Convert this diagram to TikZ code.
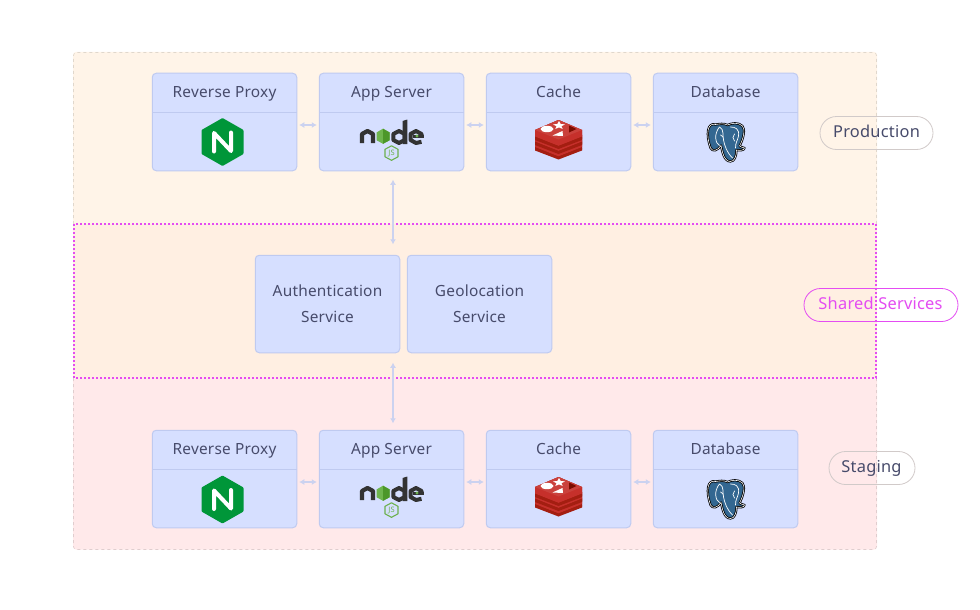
\documentclass[tikz,border=0pt]{standalone}
\usepackage{fontspec}
\setmainfont{Noto Sans}[LetterSpace=1.5]
\usetikzlibrary{arrows.meta}
\definecolor{prodfill}{HTML}{FFF4E8}
\definecolor{sharedfill}{HTML}{FFEFE2}
\definecolor{stagefill}{HTML}{FFE9EA}
\definecolor{boxfill}{HTML}{D6DFFF}
\definecolor{boxline}{HTML}{BFCAF0}
\definecolor{linkline}{HTML}{CBD2F0}
\definecolor{txt}{HTML}{474B6B}
\definecolor{mag}{HTML}{E44CF2}
\definecolor{ngx}{HTML}{009639}
\definecolor{njs}{HTML}{333333}
\definecolor{njg}{HTML}{6CB04E}
\definecolor{njb}{HTML}{55A82E}
\definecolor{pg}{HTML}{336791}
\definecolor{rtop}{HTML}{C6302B}
\definecolor{rdark}{HTML}{A41E11}
\definecolor{rdeep}{HTML}{7A0C00}
\newcommand{\pgshape}{(-10,-17.5) .. controls (-18,-20) and (-20,-8) .. (-15,6)
      .. controls (-13,10) and (-8,9) .. (-4.5,3.5)
      .. controls (-3.5,8) and (-2,19.5) .. (5,19.5)
      .. controls (9,19.5) and (11,14) .. (11,8)
      .. controls (15,9) and (19,8) .. (19,6)
      .. controls (16,5) and (15,5) .. (14,4)
      .. controls (18,-3) and (20,-13) .. (17,-16)
      .. controls (13,-20) and (6,-19) .. (2,-17)
      .. controls (-2,-19) and (-6,-18) .. (-10,-17.5) -- cycle}
\tikzset{
  x=1pt,y=-1pt,
  zone/.style={draw=#1,line width=.6pt,dash pattern=on 3pt off 3pt,rounded corners=3pt},
  svc/.style={draw=boxline,fill=boxfill,line width=1pt,rounded corners=4pt,minimum width=144.5pt,minimum height=97.5pt,inner sep=0pt,outer sep=0pt},
  divider/.style={draw=boxline,line width=1pt},
  lab/.style={text=txt,font=\fontsize{15.4}{18}\selectfont,inner sep=0pt,anchor=base},
  badge/.style={text=txt,font=\fontsize{16.4}{19}\selectfont,inner sep=0pt,anchor=base},
  pill/.style={draw=#1,line width=.8pt,rounded corners=16.5pt,inner sep=0pt,minimum height=33pt,fill=none},
  link/.style={draw=linkline,line width=1.6pt,{Latex[length=5pt,width=6pt]}-{Latex[length=5pt,width=6pt]}},
  pics/nginx/.style={code={
    \fill[ngx,rounded corners=.8pt] (0,-24)--(21,-12)--(21,12)--(0,24)--(-21,12)--(-21,-12)--cycle;
    \draw[white,line width=4pt,line cap=round,line join=round] (-8.5,9.5)--(-8.5,-9)--(8.5,9)--(8.5,-9.5);
  }},
  pics/nodejs/.style={code={
    % local origin = (391.5,141)
    \draw[njs,line width=4.2pt,line join=round] (-29.5,2)--(-29.5,-7)--(-24,-10)--(-18.5,-7)--(-18.5,2);
    \fill[njb!85!white] (-8.5,-12.3)--(-1.8,-8.5)--(-1.8,-0.8)--(-8.5,2.8)--(-15,-0.8)--(-15,-8.5)--cycle;
    \fill[njb!90!black] (-8.5,-12.3)--(-1.8,-8.5)--(-1.8,-0.8)--(-8.5,2.8)--cycle;
    \draw[njs,line width=4pt,line join=round] (7.5,-10)--(13.2,-7)--(13.2,-1)--(7.5,2)--(1.8,-1)--(1.8,-7)--cycle;
    \fill[njs] (11,-20)--(15.8,-21.5)--(15.8,3)--(11,3)--cycle;
    \draw[njs,line width=4pt,line join=round] (30,0.8)--(24.5,2)--(19,-1)--(19,-7)--(24.5,-10)--(30,-7)--(30,-3.5);
    \fill[njs] (21,-6)--(32,-6)--(32,-3)--(21,-3)--cycle;
    \fill[njg] (25.5,-5) circle (1.7pt);
    \draw[njg,line width=1.1pt,fill=none,line join=round] (0,4.8)--(6.5,8.3)--(6.5,15.8)--(0,19.3)--(-6.5,15.8)--(-6.5,8.3)--cycle;
    \node[text=njg,inner sep=0pt,font=\fontsize{7.5}{8}\selectfont\bfseries] at (0,12) {JS};
  }},
  pics/redis/.style={code={
    % local origin = (558.5,140)
    \foreach \d in {10.5,5,0}{
      \fill[rdark] (-23.5,-10+\d)--(0,-20+\d)--(23.5,-10+\d)--(23.5,0+\d)--(0,9+\d)--(-23.5,0+\d)--cycle;
      \fill[rtop] (-23.5,-3.5+\d)--(0,6+\d)--(23.5,-3.5+\d)--(23.5,-10+\d)--(0,-20+\d)--(-23.5,-10+\d)--cycle;
      \fill[rdark] (-23.5,-3+\d)--(0,6+\d)--(23.5,-3+\d)--(23.5,-1+\d)--(0,8+\d)--(-23.5,-1+\d)--cycle;
    }
    \fill[rtop!92!white] (-23.5,-10)--(0,-20)--(23.5,-10)--(0,-0.5)--cycle;
    \fill[white] (-11.5,-11) ellipse[x radius=6.5pt,y radius=3.2pt];
    \fill[white] (0.5,-19)--(2.2,-16)--(6.5,-15.6)--(3,-13.8)--(4.2,-11)--(0.5,-12.6)--(-3.2,-11)--(-2,-13.8)--(-5.5,-15.6)--(-1.2,-16)--cycle;
    \fill[white] (4,-9)--(-6,-4.5)--(4.5,-4)--cycle;
    \fill[rdeep] (10.5,-14.5)--(18,-11)--(10.5,-7.5)--cycle;
  }},
  pics/pgsql/.style={code={
    % local origin = (725.5,142)
    \draw[black,line width=2.2pt,fill=pg,line join=round] \pgshape;
    \draw[white,line width=.6pt,line join=round] \pgshape;
    \draw[white,line width=.7pt,line cap=round]
      (-6,-15) .. controls (-12,-8) and (-10,2) .. (-6,3.5)
      (-6,-15) .. controls (-1,-13) and (-3,-5) .. (-2,-2) .. controls (-1,3) and (1,10) .. (7,16)
      (5,-15) .. controls (10,-15) and (14,-13) .. (13,-6) .. controls (12,-1) and (10,0) .. (10,6)
      (-5,-7) .. controls (-3,-6) and (-2,-5) .. (-2,-3)
      (9,-8) .. controls (7,-6) and (7,-3) .. (9,-1);
  }}
}
\begin{document}
\begin{tikzpicture}
\useasboundingbox (0,0) rectangle (980,610);
\fill[white] (0,0) rectangle (980,610);
% zones
\fill[prodfill,rounded corners=3pt] (73,52) rectangle (877,232);
\fill[sharedfill] (73,224) rectangle (877,378);
\fill[stagefill,rounded corners=3pt] (73,378) -- (73,549.5) -- (877,549.5) -- (877,378) -- cycle;
\draw[zone=prodfill!88!black] (73.5,224) -- (73.5,52.5) -- (876.5,52.5) -- (876.5,224);
\draw[zone=stagefill!88!black] (73.5,378) -- (73.5,549.5) -- (876.5,549.5) -- (876.5,378);
\draw[mag,line width=2pt,dash pattern=on 2pt off 2pt] (74,224) rectangle (876,378);
% production row
\node[svc] (p1) at (224.5,122) {};
\node[svc] (p2) at (391.5,122) {};
\node[svc] (p3) at (558.5,122) {};
\node[svc] (p4) at (725.5,122) {};
% staging row
\node[svc] (s1) at (224.5,479) {};
\node[svc] (s2) at (391.5,479) {};
\node[svc] (s3) at (558.5,479) {};
\node[svc] (s4) at (725.5,479) {};
% shared
\node[svc] (auth) at (327.5,304) {};
\node[svc] (geo) at (479.5,304) {};
\node[lab] (auth1) at (327.5,296) {Authentication};
\node[lab] (auth2) at (327.5,322) {Service};
\node[lab] (geo1) at (479.5,296) {Geolocation};
\node[lab] (geo2) at (479.5,322) {Service};
% dividers and titles
\foreach \n in {p1,p2,p3,p4,s1,s2,s3,s4}{
  \draw[divider] ([yshift=9.5pt]\n.west) -- ([yshift=9.5pt]\n.east);
}
\node[lab] (p1t) at (224.5,97) {Reverse Proxy};
\node[lab] (p2t) at (391.5,97) {App Server};
\node[lab] (p3t) at (558.5,97) {Cache};
\node[lab] (p4t) at (725.5,97) {Database};
\node[lab] (s1t) at (224.5,454.5) {Reverse Proxy};
\node[lab] (s2t) at (391.5,454.5) {App Server};
\node[lab] (s3t) at (558.5,454.5) {Cache};
\node[lab] (s4t) at (725.5,454.5) {Database};
% icons
\pic at (222.5,142) {nginx};
\pic at (391.5,141) {nodejs};
\pic at (558.5,140) {redis};
\pic at (725.5,142) {pgsql};
\pic at (222.5,499.5) {nginx};
\pic at (391.5,498) {nodejs};
\pic at (558.5,497) {redis};
\pic at (725.5,499) {pgsql};
% connectors
\coordinate (vx) at (393,0);
\foreach \a/\b in {p1/p2,p2/p3,p3/p4,s1/s2,s2/s3,s3/s4}{
  \draw[link,shorten <=2.5pt,shorten >=2.5pt] ([yshift=-3pt]\a.east) -- ([yshift=-3pt]\b.west);
}
\draw[link,shorten <=9pt,shorten >=11pt] (p2.south -| vx) -- (auth.north -| vx);
\draw[link,shorten <=10pt,shorten >=7pt] (auth.south -| vx) -- (s2.north -| vx);
% badges
\node[pill=txt!25!prodfill,minimum width=113pt] (prod) at (876.5,133) {};
\node[pill=mag,minimum width=154pt] (shared) at (881,305) {};
\node[pill=txt!25!prodfill,minimum width=86pt] (stag) at (872,468) {};
\node[badge] (prodt) at (876.5,137) {Production};
\node[badge,text=mag] (sharedt) at (880.5,309.5) {Shared Services};
\node[badge] (stagt) at (871.5,472) {Staging};
\end{tikzpicture}
\end{document}
